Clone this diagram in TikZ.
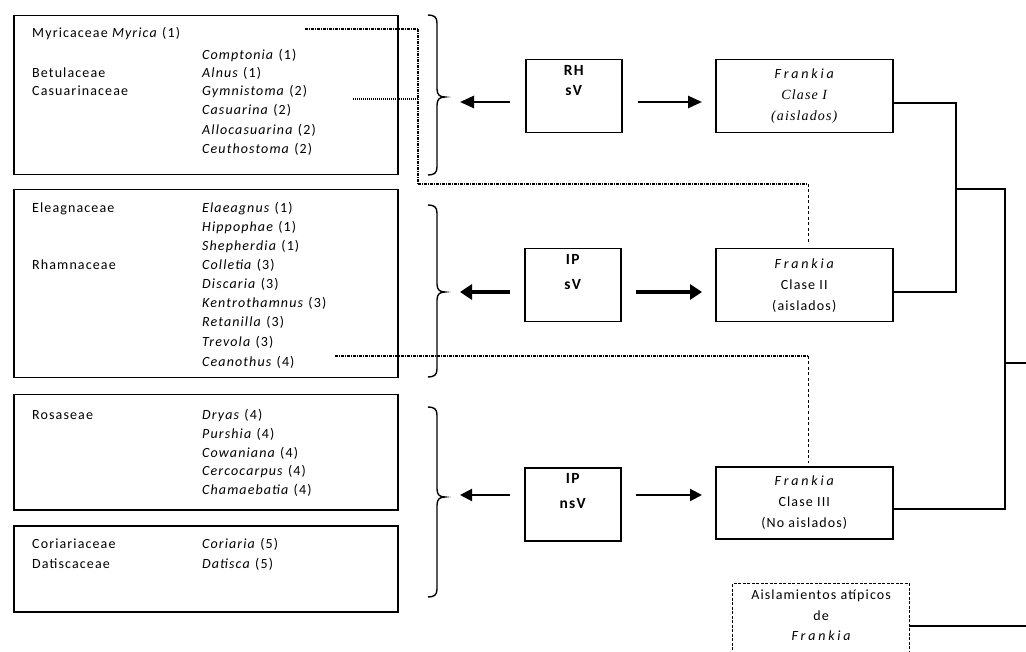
\documentclass[tikz,border=0pt]{standalone}
\usepackage{fontspec}
\setmainfont{Carlito}[LetterSpace=8]
\newfontfamily\timesit{Liberation Serif}[LetterSpace=8]
\newfontfamily\widesans{Carlito}[LetterSpace=20]
\usetikzlibrary{arrows.meta,positioning}
\newcommand{\gen}[2]{\textit{#1} (#2)}
\newcommand{\fk}{{\widesans\itshape Frankia}}
% curly brace: top, tip, bottom
\newcommand{\hostbrace}[3]{%
  \draw[brc] (428,#1) .. controls (434,#1) and (437,#1+2) .. (437,#1+8)
    -- (437,#2-8) .. controls (437,#2-2) and (440,#2) .. (445,#2)
    .. controls (440,#2) and (437,#2+2) .. (437,#2+8)
    -- (437,#3-8) .. controls (437,#3-2) and (434,#3) .. (428,#3);}
\tikzset{
    every node/.style={font=\fontsize{14}{20}\selectfont},
    plantbox/.style={rectangle, draw=black, line width=1.5pt, anchor=north west, minimum width=384pt, inner sep=0pt},
    famlbl/.style={anchor=base west, inner sep=0pt},
    ratebox/.style={rectangle, draw=black, line width=1.5pt, anchor=north west, minimum width=96pt, minimum height=73pt, inner sep=0pt},
    ratelbl/.style={align=center, inner sep=0pt, font=\fontsize{15.5}{20}\selectfont\bfseries},
    classbox/.style={rectangle, draw=black, line width=1.5pt, anchor=north west, minimum width=177pt, minimum height=73pt, align=center, inner sep=0pt, font=\fontsize{14}{21}\selectfont},
    atipbox/.style={rectangle, draw=black, line width=1.3pt, dash pattern=on 3pt off 1.5pt, anchor=north west, minimum width=177pt, minimum height=100pt, inner sep=0pt},
    brc/.style={line width=1.4pt},
    arrRH/.style={line width=2.5pt, -{Triangle[length=14pt,width=12pt]}},
    arrSV/.style={line width=4.5pt, -{Triangle[length=12pt,width=15pt]}},
    arrNS/.style={line width=2pt, -{Triangle[length=12pt,width=12pt]}},
    link/.style={line width=1.5pt},
    dashdot/.style={line width=1.4pt, dash pattern=on 3pt off 1pt on 1pt off 1pt},
    dotline/.style={line width=1.3pt, dash pattern=on 1pt off 1pt},
    thindash/.style={line width=0.6pt, dash pattern=on 3pt off 2.5pt}
}

\begin{document}
\begin{tikzpicture}[x=1pt,y=-1pt]
\path[use as bounding box, fill=white] (0,0) rectangle (1026,652);
\clip (0,0) rectangle (1026,652);

% host plant groups
\node[plantbox, minimum height=159pt] (P1) at (13,15) {};
\node[plantbox, minimum height=188pt] (P2) at (13,189) {};
\node[plantbox, minimum height=115pt] (P3) at (13,394) {};
\node[plantbox, minimum height=86pt] (P4) at (13,525) {};

% families
\node[famlbl] (F1) at (32,38) {Myricaceae \textit{Myrica} (1)};
\node[famlbl] (F2) at (32,78) {Betulaceae};
\node[famlbl] (F3) at (32,96) {Casuarinaceae};
\node[famlbl] (F4) at (32,213) {Eleagnaceae};
\node[famlbl] (F5) at (32,270) {Rhamnaceae};
\node[famlbl] (F6) at (32,420) {Rosaseae};
\node[famlbl] (F7) at (32,548) {Coriariaceae};
\node[famlbl] (F8) at (32,568) {Datiscaceae};

% genera
\foreach \g/\n/\y [count=\k] in {Comptonia/1/60, Alnus/1/78, Gymnistoma/2/96, Casuarina/2/115,
    Allocasuarina/2/135, Ceuthostoma/2/154,
    Elaeagnus/1/213, Hippophae/1/232, Shepherdia/1/251, Colletia/3/270, Discaria/3/289,
    Kentrothamnus/3/308, Retanilla/3/327, Trevola/3/347, Ceanothus/4/367,
    Dryas/4/420, Purshia/4/438, Cowaniana/4/457, Cercocarpus/4/475, Chamaebatia/4/494,
    Coriaria/5/548, Datisca/5/568}
  \node[famlbl] (G\k) at (202,\y) {\gen{\g}{\n}};

% braces
\hostbrace{15}{97}{175}
\hostbrace{205}{292}{377}
\hostbrace{407}{497}{597}
\coordinate (tip1) at (460,102);
\coordinate (tip2) at (460,292);
\coordinate (tip3) at (460,495);

% vesicle / hyphae boxes
\node[ratebox] (rh) at (525,59) {};
\node[ratelbl, below=6pt of rh.north] (rhT) {RH\\sV};
\node[ratebox] (ips) at (524,248) {};
\node[ratelbl, below=6pt of ips.north, font=\fontsize{15.5}{25}\selectfont\bfseries] (ipsT) {IP\\sV};
\node[ratebox] (ipn) at (524,467) {};
\node[ratelbl, below=6pt of ipn.north, font=\fontsize{15.5}{25}\selectfont\bfseries] (ipnT) {IP\\nsV};

% Frankia classes
\node[classbox] (cI) at (715,59) {\fk\\{\timesit\itshape Clase I}\\{\timesit\itshape (aislados)}};
\node[classbox] (cII) at (715,248) {\fk\\Clase II\\(aislados)};
\node[classbox, minimum height=72pt] (cIII) at (715,466) {\fk\\Clase III\\(No aislados)};
\node[atipbox] (atip) at (732,583) {};
\node[align=center, inner sep=0pt, font=\fontsize{14}{20.5}\selectfont, below=7pt of atip.north] (atipT) {Aislamientos atípicos\\de\\\fk};

% arrows
\draw[arrRH, shorten <=15pt] (rh.west |- tip1) -- (tip1);
\draw[arrRH, shorten <=15pt, shorten >=13pt] (rh.east |- tip1) -- (cI.west |- tip1);
\draw[arrSV, shorten <=14pt] (ips.west |- tip2) -- (tip2);
\draw[arrSV, shorten <=14pt, shorten >=13pt] (ips.east |- tip2) -- (cII.west |- tip2);
\draw[arrNS, shorten <=14pt] (ipn.west |- tip3) -- (tip3);
\draw[arrNS, shorten <=14pt, shorten >=13pt] (ipn.east |- tip3) -- (cIII.west |- tip3);

% dendrogram
\coordinate (jA) at (956,189);
\coordinate (jB) at (1005,363);
\coordinate (out1) at (1026,363);
\coordinate (out2) at (1026,626);
\draw[link] ([yshift=-7pt]cI.east) -| (jA) |- ([yshift=-7pt]cII.east);
\draw[link] (jA) -| (jB) |- ([yshift=-6pt]cIII.east);
\draw[link] (jB) -- (out1);
\draw[link] (atip.east |- out2) -- (out2);

% dotted guides
\coordinate (m1) at (305,29);
\coordinate (m2) at (418,29);
\coordinate (m3) at (418,184);
\coordinate (m4) at (808,184);
\coordinate (m5) at (353,99);
\coordinate (m6) at (335,356);
\coordinate (m7) at (808,356);
\draw[dashdot] (m1) -- (m2);
\draw[dashdot, line width=2pt] (m2) -- (m3);
\draw[dashdot] (m3) -- (m4);
\draw[dotline] (m5) -- (m5 -| m2);
\draw[dashdot] (m6) -- (m7);
\draw[thindash, shorten >=6pt] (m4) -- (m4 |- cII.north);
\draw[thindash, shorten >=3pt] (m7) -- (m7 |- cIII.north);

\end{tikzpicture}
\end{document}
